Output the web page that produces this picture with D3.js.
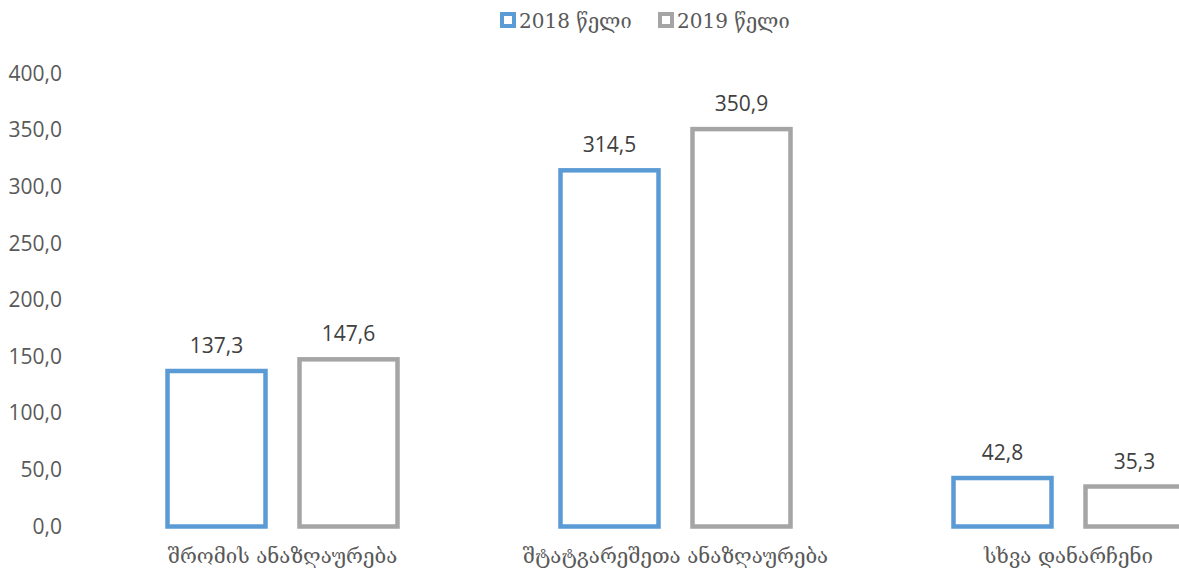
<!DOCTYPE html>
<html>
<head>
<meta charset="utf-8">
<script src="https://cdn.jsdelivr.net/npm/d3@7"></script>
<style>
  body { margin: 0; background: #fff; overflow: hidden; }
  svg { display: block; }
</style>
</head>
<body>
<div id="chart"></div>
<script>
// --- data
const categories = ["შრომის ანაზღაურება", "შტატგარეშეთა ანაზღაურება", "სხვა დანარჩენი"];
const seriesNames = ["2018 წელი", "2019 წელი"];
const values2018 = [137.3, 314.5, 42.8];
const values2019 = [147.6, 350.9, 35.3];
const yTicks = [0, 50, 100, 150, 200, 250, 300, 350, 400];
const colors = ["#5B9BD5", "#A5A5A5"];

const width = 1179, height = 574;
const fmt = (v) => d3.format(".1f")(v).replace(".", ",");

const svg = d3.select("#chart")
  .append("svg")
  .attr("width", width)
  .attr("height", height);

// plot area runs past the right edge like in the original
const x = d3.scaleBand()
  .domain(categories)
  .range([86, 1265]);

const xInner = d3.scalePoint()
  .domain(seriesNames)
  .range([-66, 66]);

const y = d3.scaleLinear()
  .domain([0, 400])
  .range([526.5, 73.5]);

// y axis labels
const yAxis = d3.axisLeft(y)
  .tickValues(yTicks)
  .tickFormat(fmt)
  .tickSize(0)
  .tickPadding(0);

svg.append("g")
  .attr("transform", "translate(62,0)")
  .call(yAxis)
  .call(g => g.select(".domain").remove())
  .selectAll("text")
  .attr("fill", "#595959")
  .style("font-family", "'Open Sans', sans-serif")
  .style("font-size", "21px");

// x axis labels
const xAxis = d3.axisBottom(x).tickSize(0).tickPadding(0);
svg.append("g")
  .attr("transform", "translate(0,548)")
  .call(xAxis)
  .call(g => g.select(".domain").remove())
  .selectAll("text")
  .attr("fill", "#595959")
  .style("font-family", "'DejaVu Serif', serif")
  .style("font-size", "20.5px");

// bars
const rows = [];
categories.forEach((c, i) => {
  rows.push({ cat: c, series: seriesNames[0], value: values2018[i], color: colors[0] });
  rows.push({ cat: c, series: seriesNames[1], value: values2019[i], color: colors[1] });
});

const barW = 98;
const bars = svg.append("g");

bars.selectAll("rect")
  .data(rows)
  .enter()
  .append("rect")
  .attr("x", d => x(d.cat) + x.bandwidth() / 2 + xInner(d.series) - barW / 2)
  .attr("y", d => y(d.value))
  .attr("width", barW)
  .attr("height", d => y(0) - y(d.value))
  .attr("fill", "none")
  .attr("stroke", d => d.color)
  .attr("stroke-width", 4.5);

bars.selectAll("text")
  .data(rows)
  .enter()
  .append("text")
  .attr("x", d => x(d.cat) + x.bandwidth() / 2 + xInner(d.series))
  .attr("y", d => y(d.value) - 18)
  .attr("text-anchor", "middle")
  .attr("fill", "#404040")
  .style("font-family", "'Open Sans', sans-serif")
  .style("font-size", "21px")
  .text(d => fmt(d.value));

// legend
const legend = svg.append("g")
  .style("font-family", "'DejaVu Serif', serif")
  .style("font-size", "20px");

const legendX = [502, 660];
seriesNames.forEach((s, i) => {
  const g = legend.append("g").attr("transform", `translate(${legendX[i]},0)`);
  g.append("rect")
    .attr("x", 0).attr("y", 14)
    .attr("width", 12).attr("height", 12)
    .attr("fill", "#fff")
    .attr("stroke", colors[i])
    .attr("stroke-width", 4);
  g.append("text")
    .attr("x", 17)
    .attr("y", 28)
    .attr("fill", "#595959")
    .text(s);
});
</script>
</body>
</html>
